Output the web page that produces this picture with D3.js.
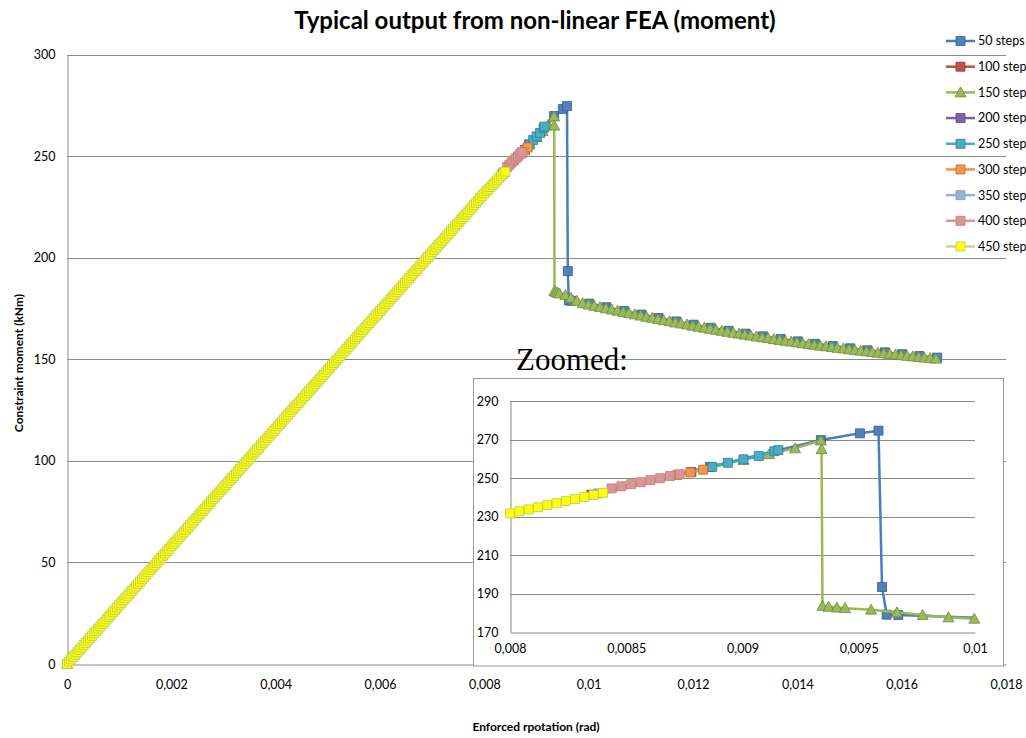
<!DOCTYPE html>
<html>
<head>
<meta charset="utf-8">
<script src="https://cdn.jsdelivr.net/npm/d3@7"></script>
<style>
  body { margin: 0; background: #fff; }
  text { font-family: Lato, "Open Sans", sans-serif; fill: #000; }
</style>
</head>
<body>
<svg id="chart" width="1026" height="738"></svg>
<script>
// ---- data ----
var seriesNames = ["50 steps", "100 steps", "150 steps", "200 steps", "250 steps",
    "300 steps", "350 steps", "400 steps", "450 steps"];

// 50 steps
var rot50 = [0, 0.009337, 0.009505, 0.009585, 0.009600, 0.009620, 0.009670, 0.01001, 0.01034,
    0.01068, 0.01101, 0.01134, 0.01168, 0.01201, 0.01234, 0.01268, 0.01301, 0.01334, 0.01368,
    0.01401, 0.01434, 0.01468, 0.01501, 0.01534, 0.01568, 0.01601, 0.01634, 0.01668];
var mom50 = [0, 269.7, 273.2, 274.6, 193.4, 179.0, 178.8, 177.4, 175.6,
    173.8, 172.0, 170.3, 168.6, 167.0, 165.5, 164.0, 162.6, 161.3, 160.0,
    158.8, 157.6, 156.5, 155.4, 154.4, 153.4, 152.5, 151.6, 150.8];

// 100 steps (hidden under the others)
var rot100 = [0, 0.00835];
var mom100 = [0, 241.3];

// 150 steps: points round the drop, then the fixed-increment tail
var rot150 = [0, 0.009004, 0.009115, 0.009226, 0.009337, 0.009340, 0.009344, 0.009370,
    0.009406, 0.009441, 0.009553, 0.009664, 0.009775, 0.009886];
var mom150 = [0, 259.4, 262.4, 265.4, 269.5, 265.0, 183.6, 183.1,
    182.7, 182.4, 181.6, 180.2, 178.8, 177.6];
var rot150TailStart = 0.009997, rot150Inc = 0.000111;
var mom150Tail = [176.9, 176.3, 175.7, 175.1, 174.5, 173.9, 173.3, 172.7, 172.1, 171.5,
    170.9, 170.4, 169.8, 169.2, 168.7, 168.1, 167.6, 167.1, 166.5, 166.0,
    165.5, 165.0, 164.5, 164.0, 163.5, 163.0, 162.6, 162.1, 161.7, 161.2,
    160.8, 160.4, 159.9, 159.5, 159.1, 158.7, 158.3, 157.9, 157.5, 157.1,
    156.7, 156.4, 156.0, 155.6, 155.3, 154.9, 154.6, 154.2, 153.9, 153.6,
    153.2, 152.9, 152.6, 152.3, 152.0, 151.7, 151.4, 151.1, 150.8, 150.5, 150.3];

// 200 steps
var rot200 = [0, 0.00878, 0.00886];
var mom200 = [0, 253.1, 255.7];

// 250 steps
var rot250 = [0, 0.008870, 0.008937, 0.009004, 0.009070, 0.009137, 0.009154];
var mom250 = [0, 255.8, 257.9, 259.7, 261.4, 263.9, 264.5];

// 300 steps
var rot300 = [0, 0.008720, 0.008776, 0.008831];
var mom300 = [0, 251.6, 252.9, 254.3];

// 350 steps (hidden)
var rot350 = [0, 0.00838];
var mom350 = [0, 242.0];

// 400 steps
var rot400 = [0, 0.008437, 0.008479, 0.008521, 0.008562, 0.008604, 0.008646, 0.008688, 0.008730];
var mom400 = [0, 244.6, 245.7, 246.8, 247.8, 248.9, 249.9, 251.0, 252.0];

// 450 steps: one moment per load step
var rot450Inc = 0.00004;
var mom450 = [0, 1.2, 2.3, 3.5, 4.6, 5.8, 6.9, 8.1, 9.3, 10.4,
    11.6, 12.7, 13.9, 15.1, 16.2, 17.4, 18.5, 19.7, 20.8, 22.0,
    23.2, 24.3, 25.5, 26.6, 27.8, 29.0, 30.1, 31.3, 32.4, 33.6,
    34.7, 35.9, 37.1, 38.2, 39.4, 40.5, 41.7, 42.8, 44.0, 45.2,
    46.3, 47.5, 48.6, 49.8, 51.0, 52.1, 53.3, 54.4, 55.6, 56.7,
    57.9, 59.1, 60.2, 61.4, 62.5, 63.7, 64.8, 66.0, 67.2, 68.3,
    69.5, 70.6, 71.8, 73.0, 74.1, 75.3, 76.4, 77.6, 78.7, 79.9,
    81.1, 82.2, 83.4, 84.5, 85.7, 86.9, 88.0, 89.2, 90.3, 91.5,
    92.6, 93.8, 95.0, 96.1, 97.3, 98.4, 99.6, 100.7, 101.9, 103.1,
    104.2, 105.4, 106.5, 107.7, 108.9, 110.0, 111.2, 112.3, 113.5, 114.6,
    115.8, 117.0, 118.1, 119.3, 120.4, 121.6, 122.7, 123.9, 125.1, 126.2,
    127.4, 128.5, 129.7, 130.9, 132.0, 133.2, 134.3, 135.5, 136.6, 137.8,
    139.0, 140.1, 141.3, 142.4, 143.6, 144.8, 145.9, 147.1, 148.2, 149.4,
    150.5, 151.7, 152.9, 154.0, 155.2, 156.3, 157.5, 158.6, 159.8, 161.0,
    162.1, 163.3, 164.4, 165.6, 166.8, 167.9, 169.1, 170.2, 171.4, 172.5,
    173.7, 174.9, 176.0, 177.2, 178.3, 179.5, 180.6, 181.8, 183.0, 184.1,
    185.3, 186.4, 187.6, 188.8, 189.9, 191.1, 192.2, 193.4, 194.5, 195.7,
    196.9, 198.0, 199.2, 200.3, 201.5, 202.7, 203.8, 205.0, 206.1, 207.3,
    208.4, 209.6, 210.8, 211.9, 213.1, 214.2, 215.4, 216.5, 217.7, 218.9,
    220.0, 221.2, 222.3, 223.5, 224.7, 225.8, 227.0, 228.1, 229.3, 230.4,
    231.6, 232.7, 233.7, 234.8, 235.9, 236.9, 238.0, 239.1, 240.2, 241.2, 242.3];

// ticks
var mainXTicks = [0, 0.002, 0.004, 0.006, 0.008, 0.01, 0.012, 0.014, 0.016, 0.018];
var mainYTicks = [0, 50, 100, 150, 200, 250, 300];
var zoomXTicks = [0.008, 0.0085, 0.009, 0.0095, 0.01];
var zoomYTicks = [170, 190, 210, 230, 250, 270, 290];

// ---- build series ----
function pairs(r, m) { return r.map(function(v, i) { return [v, m[i]]; }); }

var pts150 = pairs(rot150, mom150).concat(mom150Tail.map(function(m, i) {
    return [rot150TailStart + i * rot150Inc, m];
}));
var pts450 = mom450.map(function(m, i) { return [i * rot450Inc, m]; });

var series = [
    { line: "#4a7ebb", fill: "#4f81bd", stroke: "#385d8a", shape: "square", points: pairs(rot50, mom50) },
    { line: "#be4b48", fill: "#c0504d", stroke: "#8c3836", shape: "square", points: pairs(rot100, mom100) },
    { line: "#98b954", fill: "#9bbb59", stroke: "#71893f", shape: "triangle", points: pts150 },
    { line: "#7d60a0", fill: "#8064a2", stroke: "#5c4776", shape: "square", points: pairs(rot200, mom200) },
    { line: "#46aac5", fill: "#4bacc6", stroke: "#357d91", shape: "square", points: pairs(rot250, mom250) },
    { line: "#f69240", fill: "#f79646", stroke: "#b66d31", shape: "square", points: pairs(rot300, mom300) },
    { line: "#95b3d7", fill: "#95b3d7", stroke: "#7f9cc0", shape: "square", points: pairs(rot350, mom350) },
    { line: "#d99694", fill: "#d99694", stroke: "#c07d7b", shape: "square", points: pairs(rot400, mom400) },
    { line: "#c3d69b", fill: "#ffff00", stroke: "#b5c96a", shape: "square", points: pts450 }
];
series.forEach(function(s, i) { s.name = seriesNames[i]; });

var fmt = d3.formatLocale({ decimal: ",", thousands: "\u00a0", grouping: [3], currency: ["", ""] }).format("~g");

function markerPath(shape) {
    if (shape === "triangle") return "M0,-5.5L5.5,4.5L-5.5,4.5Z";
    return "M-4.5,-4.5H4.5V4.5H-4.5Z";
}

var svg = d3.select("#chart");
svg.append("rect").attr("width", 1026).attr("height", 738).attr("fill", "#fff");
var defs = svg.append("defs");

function drawSeries(g, xs, ys, clipId) {
    var xd = xs.domain(), yd = ys.domain();
    var lineGen = d3.line().x(function(d) { return xs(d[0]); }).y(function(d) { return ys(d[1]); });
    series.forEach(function(s) {
        var sg = g.append("g");
        sg.append("path")
            .attr("d", lineGen(s.points))
            .attr("fill", "none")
            .attr("stroke", s.line)
            .attr("stroke-width", 2.5)
            .attr("stroke-linejoin", "round")
            .attr("clip-path", "url(#" + clipId + ")");
        sg.selectAll("path.mk")
            .data(s.points.filter(function(p) {
                return p[0] >= xd[0] - 1e-9 && p[0] <= xd[1] + 1e-9 && p[1] >= yd[0] && p[1] <= yd[1];
            }))
            .enter().append("path")
            .attr("class", "mk")
            .attr("transform", function(d) { return "translate(" + xs(d[0]) + "," + ys(d[1]) + ")"; })
            .attr("d", markerPath(s.shape))
            .attr("fill", s.fill)
            .attr("stroke", s.stroke)
            .attr("stroke-width", 0.8);
    });
}

// ---- main chart ----
var x = d3.scaleLinear().domain([0, 0.018]).range([67, 1006]);
var y = d3.scaleLinear().domain([0, 300]).range([664, 54.5]);

defs.append("clipPath").attr("id", "clipMain").append("rect")
    .attr("x", 67).attr("y", 54.5).attr("width", 939).attr("height", 609.5);

svg.append("g").selectAll("line")
    .data(mainYTicks.slice(1)).enter().append("line")
    .attr("x1", 67).attr("x2", 1006)
    .attr("y1", function(d) { return Math.round(y(d)) + 0.5; })
    .attr("y2", function(d) { return Math.round(y(d)) + 0.5; })
    .attr("stroke", "#8a8a8a").attr("stroke-width", 1);

var yAxis = svg.append("g")
    .attr("transform", "translate(67.5,0)")
    .call(d3.axisLeft(y).tickValues(mainYTicks).tickSize(0).tickPadding(12).tickFormat(fmt));
var xAxis = svg.append("g")
    .attr("transform", "translate(0,664.5)")
    .call(d3.axisBottom(x).tickValues(mainXTicks).tickSize(0).tickPadding(16).tickFormat(fmt));
[xAxis, yAxis].forEach(function(a) {
    a.select(".domain").attr("stroke", "#8a8a8a");
    a.selectAll("text").style("font-size", "12.5px").attr("fill", "#000");
});

drawSeries(svg.append("g"), x, y, "clipMain");

// titles
svg.append("text").attr("x", 535).attr("y", 29).attr("text-anchor", "middle")
    .style("font-size", "24px").style("font-weight", "bold")
    .text("Typical output from non-linear FEA (moment)");
svg.append("text").attr("x", 536).attr("y", 731).attr("text-anchor", "middle")
    .style("font-size", "12px").style("font-weight", "bold")
    .text("Enforced rpotation (rad)");
svg.append("text").attr("transform", "translate(23,363) rotate(-90)").attr("text-anchor", "middle")
    .style("font-size", "12px").style("font-weight", "bold")
    .text("Constraint moment (kNm)");

// legend
var ly = d3.scalePoint().domain(seriesNames).range([41, 246.5]);
var leg = svg.append("g").selectAll("g").data(series).enter().append("g")
    .attr("transform", function(d) { return "translate(0," + ly(d.name) + ")"; });
leg.append("line").attr("x1", 946).attr("x2", 975)
    .attr("stroke", function(d) { return d.line; }).attr("stroke-width", 2.5);
leg.append("path").attr("transform", "translate(960.5,0)")
    .attr("d", function(d) { return markerPath(d.shape); })
    .attr("fill", function(d) { return d.fill; })
    .attr("stroke", function(d) { return d.stroke; }).attr("stroke-width", 0.8);
leg.append("text").attr("x", 978).attr("dy", "0.35em")
    .style("font-size", "12.5px").text(function(d) { return d.name; });

// "Zoomed:" caption
svg.append("text").attr("x", 516).attr("y", 370)
    .style("font-family", "'Liberation Serif', 'DejaVu Serif', serif").style("font-size", "31px")
    .text("Zoomed:");

// ---- zoomed inset ----
var inset = svg.append("g");
inset.append("rect").attr("x", 473.5).attr("y", 378.5).attr("width", 530).attr("height", 287.5)
    .attr("fill", "#fff").attr("stroke", "#9a9a9a").attr("stroke-width", 1);

var zx = d3.scaleLinear().domain([0.008, 0.01]).range([510, 975]);
var zy = d3.scaleLinear().domain([170, 290]).range([632, 401]);

defs.append("clipPath").attr("id", "clipZoom").append("rect")
    .attr("x", 510).attr("y", 401).attr("width", 465).attr("height", 231);

inset.append("g").selectAll("line")
    .data(zoomYTicks.slice(1)).enter().append("line")
    .attr("x1", 510).attr("x2", 975)
    .attr("y1", function(d) { return Math.round(zy(d)) + 0.5; })
    .attr("y2", function(d) { return Math.round(zy(d)) + 0.5; })
    .attr("stroke", "#8a8a8a").attr("stroke-width", 1);

var zyAxis = inset.append("g").attr("transform", "translate(510.5,0)")
    .call(d3.axisLeft(zy).tickValues(zoomYTicks).tickSize(0).tickPadding(12).tickFormat(fmt));
var zxAxis = inset.append("g").attr("transform", "translate(0,632.5)")
    .call(d3.axisBottom(zx).tickValues(zoomXTicks).tickSize(0).tickPadding(12).tickFormat(fmt));
[zxAxis, zyAxis].forEach(function(a) {
    a.select(".domain").attr("stroke", "#8a8a8a");
    a.selectAll("text").style("font-size", "12.5px").attr("fill", "#000");
});

drawSeries(inset.append("g"), zx, zy, "clipZoom");
</script>
</body>
</html>
